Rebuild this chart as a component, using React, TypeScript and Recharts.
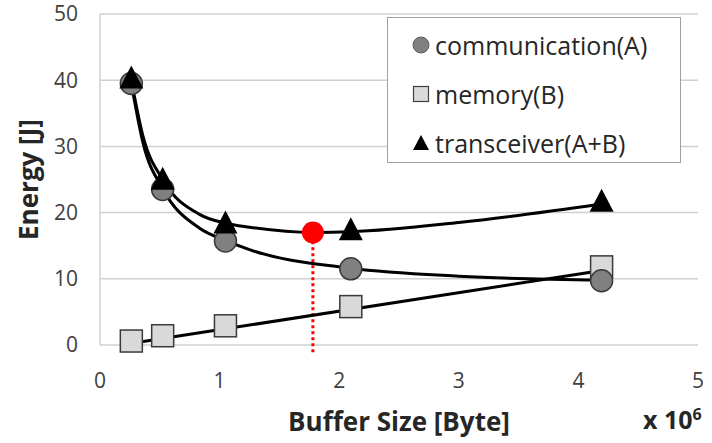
import { ComposedChart, Scatter, Line, XAxis, YAxis, CartesianGrid, ReferenceLine } from 'recharts';

// buffer sizes in units of 10^6 byte
const bufferSizes = [0.262, 0.524, 1.049, 2.097, 4.194];
const communication = [39.5, 23.5, 15.7, 11.5, 9.7];
const memory = [0.6, 1.4, 2.9, 5.8, 11.8];
const transceiver = [40.1, 24.8, 18.2, 17.2, 21.5];

// trend lines
const commTrendX = [0.262, 0.36, 0.524, 0.836, 1.049, 1.25, 2.097, 3.0, 4.194];
const commTrendY = [39.5, 30.5, 23.6, 17.6, 15.8, 14.4, 11.6, 10.4, 9.8];
const memTrendX = [0.28, 4.25];
const memTrendY = [0.3, 11.4];
const transTrendX = [0.262, 0.36, 0.524, 0.836, 1.049, 1.25, 1.78, 2.097, 3.0, 4.194];
const transTrendY = [40.0, 31.5, 25.0, 19.7, 18.4, 17.8, 17.0, 17.1, 18.5, 21.3];

const optimum = { x: 1.78, y: 17.0 };

const xTicks = [0, 1, 2, 3, 4, 5];
const yTicks = [0, 10, 20, 30, 40, 50];

const toPoints = (xs: number[], ys: number[]) => xs.map((x, i) => ({ x, y: ys[i] }));

const FONT = '"Open Sans", "Liberation Sans", sans-serif';

const CircleMark = (p: any) => (
    <circle cx={p.cx} cy={p.cy} r={11} fill="#808080" stroke="#3a3a3a" strokeWidth={1.5} />
);
const SquareMark = (p: any) => (
    <rect x={p.cx - 11} y={p.cy - 11} width={22} height={22} fill="#d9d9d9" stroke="#3a3a3a" strokeWidth={1.5} />
);
const TriangleMark = (p: any) => (
    <polygon points={`${p.cx},${p.cy - 14} ${p.cx + 12},${p.cy + 9} ${p.cx - 12},${p.cy + 9}`} fill="#000" />
);
const RedDot = (p: any) => <circle cx={p.cx} cy={p.cy} r={11} fill="#ff0000" />;

const App = () => {
    const commData = toPoints(bufferSizes, communication);
    const memData = toPoints(bufferSizes, memory);
    const transData = toPoints(bufferSizes, transceiver);

    return (
        <div style={{ position: 'absolute', left: 0, top: 0, width: 712, height: 443, background: '#fff', fontFamily: FONT }}>
            <ComposedChart width={712} height={443} margin={{ top: 14, right: 14, left: 0, bottom: 0 }}>
                <CartesianGrid horizontal vertical={false} stroke="#d0d0d0" strokeWidth={1.5} />
                <XAxis
                    type="number"
                    dataKey="x"
                    domain={[0, 5]}
                    ticks={xTicks}
                    axisLine={false}
                    tickLine={false}
                    tickMargin={22}
                    height={98}
                    tick={{ fill: '#404040', fontSize: 21, fontFamily: FONT }}
                    label={{ value: 'Buffer Size [Byte]', position: 'insideBottom', offset: 12, fill: '#262626', fontSize: 26, fontWeight: 'bold', fontFamily: FONT }}
                />
                <YAxis
                    type="number"
                    dataKey="y"
                    domain={[0, 50]}
                    ticks={yTicks}
                    width={100}
                    axisLine={{ stroke: '#d0d0d0', strokeWidth: 1.5 }}
                    tickLine={false}
                    tickMargin={16}
                    tick={{ fill: '#404040', fontSize: 21, fontFamily: FONT }}
                    label={{ value: 'Energy [J]', angle: -90, position: 'insideLeft', offset: 29, style: { textAnchor: 'middle' }, fill: '#262626', fontSize: 26, fontWeight: 'bold', fontFamily: FONT }}
                />
                <Scatter data={memData} shape={SquareMark} isAnimationActive={false} />
                <Scatter data={commData} shape={CircleMark} isAnimationActive={false} />
                <Scatter data={transData} shape={TriangleMark} isAnimationActive={false} />
                <ReferenceLine
                    segment={[{ x: optimum.x, y: -1.1 }, { x: optimum.x, y: optimum.y }]}
                    stroke="#ff0000"
                    strokeWidth={3}
                    strokeDasharray="3 3"
                    ifOverflow="visible"
                />
                <Line data={toPoints(memTrendX, memTrendY)} dataKey="y" type="linear" stroke="#000" strokeWidth={3} dot={false} activeDot={false} isAnimationActive={false} />
                <Line data={toPoints(commTrendX, commTrendY)} dataKey="y" type="monotone" stroke="#000" strokeWidth={3} dot={false} activeDot={false} isAnimationActive={false} />
                <Line data={toPoints(transTrendX, transTrendY)} dataKey="y" type="monotone" stroke="#000" strokeWidth={3} dot={false} activeDot={false} isAnimationActive={false} />
                <Scatter data={[optimum]} shape={RedDot} isAnimationActive={false} />
            </ComposedChart>

            <div style={{ position: 'absolute', left: 387, top: 17, width: 294, height: 146, boxSizing: 'border-box', border: '1.5px solid #a0a0a0', background: '#fff', fontSize: 25, color: '#262626' }}>
                {[
                    { label: 'communication(A)', icon: <circle cx={9} cy={9} r={8} fill="#808080" stroke="#606060" /> },
                    { label: 'memory(B)', icon: <rect x={1.5} y={1.5} width={15} height={15} fill="#d9d9d9" stroke="#404040" strokeWidth={1.2} /> },
                    { label: 'transceiver(A+B)', icon: <polygon points="9,1 17,16 1,16" fill="#000" /> },
                ].map((item, i) => (
                    <div key={i} style={{ position: 'absolute', left: 24, top: 10 + i * 49, height: 34, display: 'flex', alignItems: 'center' }}>
                        <svg width={18} height={18} style={{ marginRight: 5 }}>{item.icon}</svg>
                        <span>{item.label}</span>
                    </div>
                ))}
            </div>

            <div style={{ position: 'absolute', left: 643, top: 402, fontSize: 25, fontWeight: 'bold', color: '#262626', whiteSpace: 'nowrap' }}>
                x 10<sup style={{ fontSize: 16 }}>6</sup>
            </div>
        </div>
    );
};

export default App;
